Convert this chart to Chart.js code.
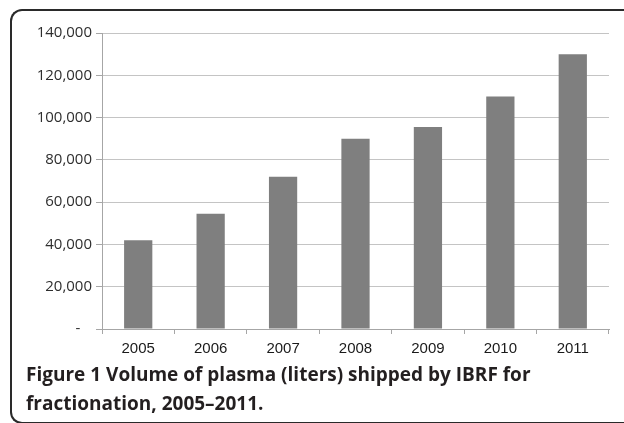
<!DOCTYPE html>
<html>
<head>
<meta charset="utf-8">
<script src="https://cdn.jsdelivr.net/npm/chart.js@4/dist/chart.umd.min.js"></script>
<style>
  html, body { margin: 0; padding: 0; background: #fff; }
  body { width: 624px; height: 423px; position: relative; overflow: hidden; }
  .frame {
    position: absolute; left: 10px; top: 9px; width: 614px; height: 411px;
    border: 2px solid #2a2a2a; border-right: none;
    border-radius: 12px 0 0 12px;
  }
  .chart-box { position: absolute; left: 0; top: 0; width: 624px; height: 365px; }
  .caption {
    position: absolute; left: 26px; top: 360px;
    font-family: "Open Sans", sans-serif; font-weight: bold; font-size: 19px;
    line-height: 29px; color: #231f20; white-space: nowrap;
  }
</style>
</head>
<body>
<div class="frame"></div>
<div class="chart-box"><canvas id="plasmaChart"></canvas></div>
<div class="caption">Figure 1 Volume of plasma (liters) shipped by IBRF for<br>fractionation, 2005–2011.</div>
<script>
// data
const years = ['2005', '2006', '2007', '2008', '2009', '2010', '2011'];
const litersShipped = [42000, 54500, 72000, 90000, 95500, 110000, 130000];

const ctx = document.getElementById('plasmaChart').getContext('2d');

new Chart(ctx, {
  type: 'bar',
  data: {
    labels: years,
    datasets: [
      {
        data: litersShipped,
        backgroundColor: '#7f7f7f',
        borderWidth: 0,
        categoryPercentage: 1,
        barPercentage: 0.39,
      },
    ],
  },
  options: {
    responsive: true,
    maintainAspectRatio: false,
    animation: false,
    layout: { padding: { top: 33, right: 15, left: 0, bottom: 0 } },
    plugins: {
      legend: { display: false },
      tooltip: { enabled: false },
    },
    scales: {
      x: {
        offset: true,
        grid: {
          offset: true,
          drawOnChartArea: false,
          drawTicks: true,
          tickLength: 5,
          color: '#a6a6a6',
        },
        border: { color: '#a6a6a6' },
        ticks: {
          color: '#1a1a1a',
          padding: 6,
          font: { family: 'Liberation Sans', size: 15 },
        },
        afterFit: (scale) => { scale.height = 36; },
      },
      y: {
        min: 0,
        max: 140000,
        grid: {
          color: '#c4c4c4',
          tickLength: 6,
          tickColor: '#a6a6a6',
        },
        border: { color: '#a6a6a6' },
        ticks: {
          stepSize: 20000,
          color: '#2e2e2e',
          padding: 4,
          font: { family: 'Open Sans', size: 15 },
          callback: (value) => value === 0 ? '-   ' : value.toLocaleString('en-US'),
        },
        afterFit: (scale) => { scale.width = 102; },
      },
    },
  },
});
</script>
</body>
</html>
